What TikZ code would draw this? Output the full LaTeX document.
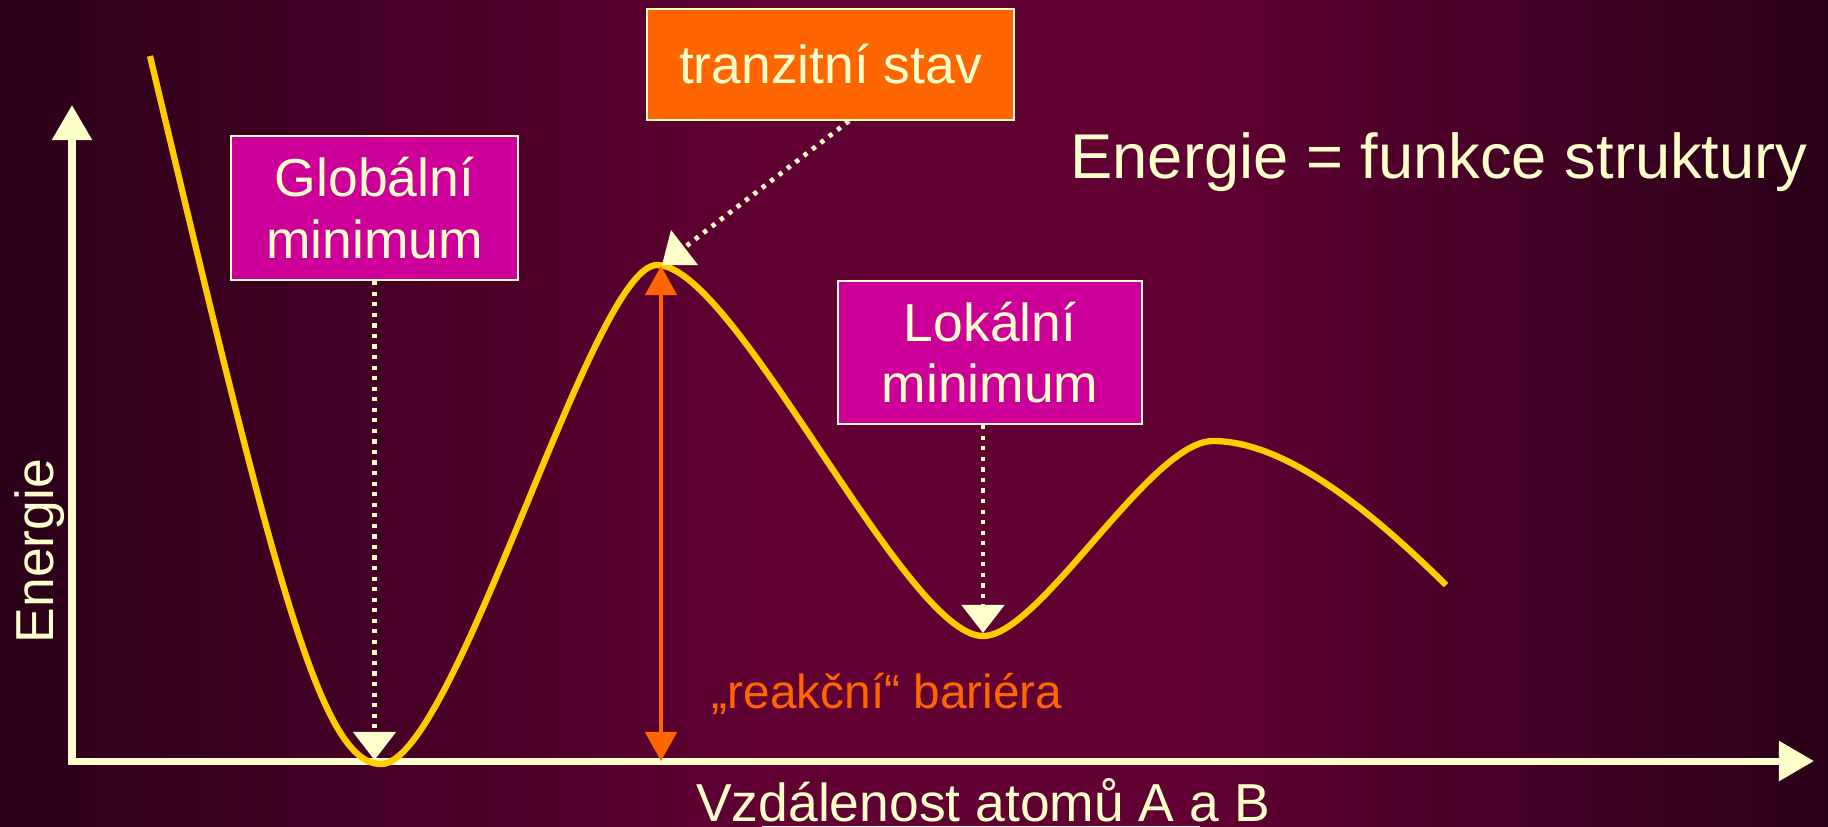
\documentclass[tikz,border=0pt]{standalone}
\usepackage{fontspec}
\setmainfont{Liberation Sans}
\usetikzlibrary{arrows.meta}
\definecolor{bgdark}{HTML}{2A0018}
\definecolor{bgmid}{HTML}{600033}
\definecolor{cream}{HTML}{FFFFCC}
\definecolor{curvey}{HTML}{FFCC00}
\definecolor{magbox}{HTML}{CC0099}
\definecolor{orng}{HTML}{FF6600}
\begin{document}
\begin{tikzpicture}[x=0.01cm,y=-0.01cm,
  lbox/.style={draw=cream, line width=0.6pt, text=cream, font=\fontsize{15.2}{17.5}\selectfont, align=center, inner sep=0pt},
  axisline/.style={draw=cream, line width=2pt, line join=miter, {Triangle[length=10pt,width=11pt]}-{Triangle[length=10pt,width=11pt]}},
  dotline/.style={draw=cream, line width=1.35pt, dash pattern=on 1.2pt off 1.8pt},
  dotarrow/.style={dotline, -{Triangle[length=8pt,width=12pt]}},
  barrier/.style={draw=orng, line width=1pt, {Triangle[length=8.3pt,width=9pt]}-{Triangle[length=8.3pt,width=9pt]}},
  curve/.style={draw=curvey, line width=1.8pt},
  lbl/.style={text=cream, inner sep=0pt}
]
\useasboundingbox (0,0) rectangle (1828,826);
% background
\shade[left color=bgdark, right color=bgmid] (0,0) rectangle (762,826);
\fill[bgmid] (760,0) rectangle (1202,826);
\shade[left color=bgmid, right color=bgdark] (1200,0) rectangle (1828,826);

% axes
\coordinate (o) at (72,761);
\coordinate (ytip) at (72,105);
\coordinate (xtip) at (1814,761);
\draw[axisline] (ytip) -- (o) -- (xtip);

% energy curve
\coordinate (c0) at (150,56);
\coordinate (gmin) at (381,764);
\coordinate (peak) at (657,265);
\coordinate (lmin) at (983,636);
\coordinate (lmax) at (1213,441);
\coordinate (cend) at (1446,585);
\draw[curve] (c0) .. controls (274,576) and (320,764) .. (gmin)
  .. controls (455,764) and (592,265) .. (peak)
  .. controls (735,265) and (905,636) .. (lmin)
  .. controls (1040,636) and (1150,441) .. (lmax)
  .. controls (1290,441) and (1380,520) .. (cend);

% boxes
\node[lbox, fill=magbox, minimum width=2.87cm, minimum height=1.44cm] (glob) at (374.5,208) {Globální\\minimum};
\node[lbox, fill=orng, minimum width=3.67cm, minimum height=1.11cm] (trans) at (830.5,64.5) {tranzitní stav};
\node[lbox, fill=magbox, minimum width=3.04cm, minimum height=1.43cm] (lok) at (990,352.5) {Lokální\\minimum};

% pointers
\coordinate (gtip) at (374.5,760);
\draw[dotarrow] (glob.south) -- (gtip);
\coordinate (ltip) at (983,633);
\draw[dotarrow] (lok.south -| ltip) -- (ltip);
\coordinate (tstart) at (849,121);
\coordinate (tend) at (685,247);
\draw[dotline] (tstart) -- (tend);
\fill[cream] (671,230) -- (662,265) -- (698,265) -- cycle;

% barrier
\coordinate (btop) at (661,266);
\coordinate (bbot) at (661,761);
\draw[barrier] (btop) -- (bbot);
\node[text=orng, inner sep=0pt, anchor=base west, font=\fontsize{13.6}{16}\selectfont] (bar) at (711,708) {„reakční“ bariéra};

% labels
\node[lbl, anchor=base, font=\fontsize{18}{21}\selectfont] (title) at (1439,178) {Energie = funkce struktury};
\node[lbl, anchor=base, font=\fontsize{15.2}{18}\selectfont] (xlab) at (983,821) {Vzdálenost atomů A a B};
\node[lbl, anchor=base, rotate=90, font=\fontsize{15.2}{18}\selectfont] (ylab) at (54,551) {Energie};
\end{tikzpicture}
\end{document}
